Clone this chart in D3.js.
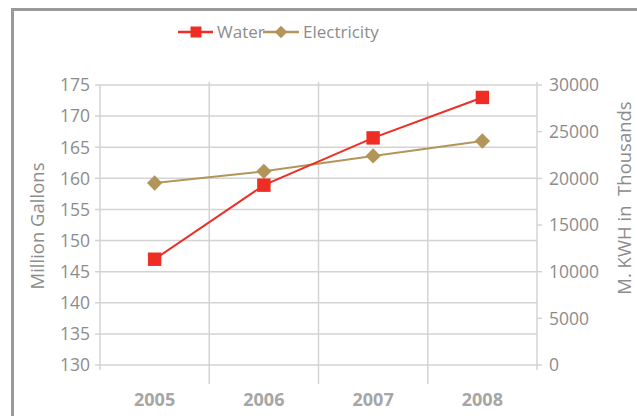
<!DOCTYPE html>
<html><head><meta charset="utf-8">
<script src="https://cdn.jsdelivr.net/npm/d3@7"></script>
<style>html,body{margin:0;padding:0;background:#fff;}svg{display:block;font-family:"Open Sans",sans-serif;}</style>
</head><body><svg id="c" width="637" height="416"></svg>
<script>
const years = ["2005","2006","2007","2008"];
const water = [147.0, 158.9, 166.5, 173.0];
const electricity = [19500, 20750, 22400, 24000];
const leftTicks = [130,135,140,145,150,155,160,165,170,175];
const rightTicks = [0,5000,10000,15000,20000,25000,30000];

const svg = d3.select("#c");
const L = 100, R = 537, T = 85, B = 365;
const x = d3.scaleBand().domain(years).range([L, R]).padding(0);
const yL = d3.scaleLinear().domain([130,175]).range([B, T]);
const yR = d3.scaleLinear().domain([0,30000]).range([B, T]);
const grid = "#d3d3d3", txt = "#8c8c8c";

// frame
svg.append("path").attr("d", `M12.5,${416+5} L12.5,9.5 L${637+5},9.5`)
  .attr("fill","none").attr("stroke","#9a9a9a").attr("stroke-width",3);

// horizontal grid
svg.append("g").selectAll("line").data(leftTicks).join("line")
  .attr("x1", L-5).attr("x2", R).attr("y1", d=>yL(d)).attr("y2", d=>yL(d))
  .attr("stroke", grid).attr("stroke-width", 1.5);
// vertical grid at band boundaries
const bounds = years.slice(1).map(d => x(d));
svg.append("g").selectAll("line").data(bounds).join("line")
  .attr("x1", d=>d).attr("x2", d=>d).attr("y1", T-3).attr("y2", 384)
  .attr("stroke", grid).attr("stroke-width", 1.5);
// axis lines
svg.append("line").attr("x1",L).attr("x2",L).attr("y1",T).attr("y2",B+5).attr("stroke",grid).attr("stroke-width",1.5);
svg.append("line").attr("x1",R).attr("x2",R).attr("y1",T-3).attr("y2",B+5).attr("stroke",grid).attr("stroke-width",1.5);
// right ticks
svg.append("g").selectAll("line").data(rightTicks).join("line")
  .attr("x1", R).attr("x2", R+5).attr("y1", d=>yR(d)).attr("y2", d=>yR(d))
  .attr("stroke", grid).attr("stroke-width", 1.5);

// left tick labels
svg.append("g").selectAll("text").data(leftTicks).join("text")
  .attr("x", 90).attr("y", d=>yL(d)).attr("dy","0.36em")
  .attr("text-anchor","end").attr("font-size",17.5).attr("fill",txt).text(d=>d);
// right tick labels
svg.append("g").selectAll("text").data(rightTicks).join("text")
  .attr("x", 549).attr("y", d=>yR(d)).attr("dy","0.36em")
  .attr("text-anchor","start").attr("font-size",17.5).attr("fill",txt).text(d=>d);
// year labels
svg.append("g").selectAll("text").data(years).join("text")
  .attr("x", d=>x(d)+x.bandwidth()/2).attr("y", 406)
  .attr("text-anchor","middle").attr("font-size",18).attr("font-weight","bold").attr("fill","#a6a6a6").text(d=>d);

// axis titles
svg.append("text").attr("transform","translate(44,226) rotate(-90)")
  .attr("text-anchor","middle").attr("font-size",18.5).attr("fill",txt).text("Million Gallons");
svg.append("text").attr("transform","translate(631,198) rotate(-90)")
  .attr("text-anchor","middle").attr("font-size",18.5).attr("fill",txt).attr("xml:space","preserve").text("M. KWH in  Thousands");

// lines
const cx = d => x(d)+x.bandwidth()/2;
const lineW = d3.line().x((d,i)=>cx(years[i])).y(d=>yL(d));
const lineE = d3.line().x((d,i)=>cx(years[i])).y(d=>yR(d));
const red = "#ee2e24", tan = "#b3955a";
svg.append("path").attr("d", lineE(electricity)).attr("fill","none").attr("stroke",tan).attr("stroke-width",2);
svg.append("path").attr("d", lineW(water)).attr("fill","none").attr("stroke",red).attr("stroke-width",2);
const sq = d3.symbol().type(d3.symbolSquare).size(180);
const dm = d3.symbol().type(d3.symbolDiamond2).size(150);
svg.append("g").selectAll("path").data(electricity).join("path")
  .attr("transform",(d,i)=>`translate(${cx(years[i])},${yR(d)})`).attr("d", dm).attr("fill",tan);
svg.append("g").selectAll("path").data(water).join("path")
  .attr("transform",(d,i)=>`translate(${cx(years[i])},${yL(d)})`).attr("d", sq).attr("fill",red);

// legend
const lg = svg.append("g");
lg.append("line").attr("x1",178).attr("x2",213).attr("y1",32).attr("y2",32).attr("stroke",red).attr("stroke-width",2.5);
lg.append("path").attr("transform","translate(196,32)").attr("d", d3.symbol().type(d3.symbolSquare).size(121)).attr("fill",red);
lg.append("text").attr("x",217).attr("y",32).attr("dy","0.36em").attr("font-size",17).attr("fill",txt).text("Water");
lg.append("line").attr("x1",263).attr("x2",299).attr("y1",32).attr("y2",32).attr("stroke",tan).attr("stroke-width",2.5);
lg.append("path").attr("transform","translate(281,32)").attr("d", d3.symbol().type(d3.symbolDiamond2).size(100)).attr("fill",tan);
lg.append("text").attr("x",303).attr("y",32).attr("dy","0.36em").attr("font-size",17).attr("fill",txt).text("Electricity");
</script></body></html>
